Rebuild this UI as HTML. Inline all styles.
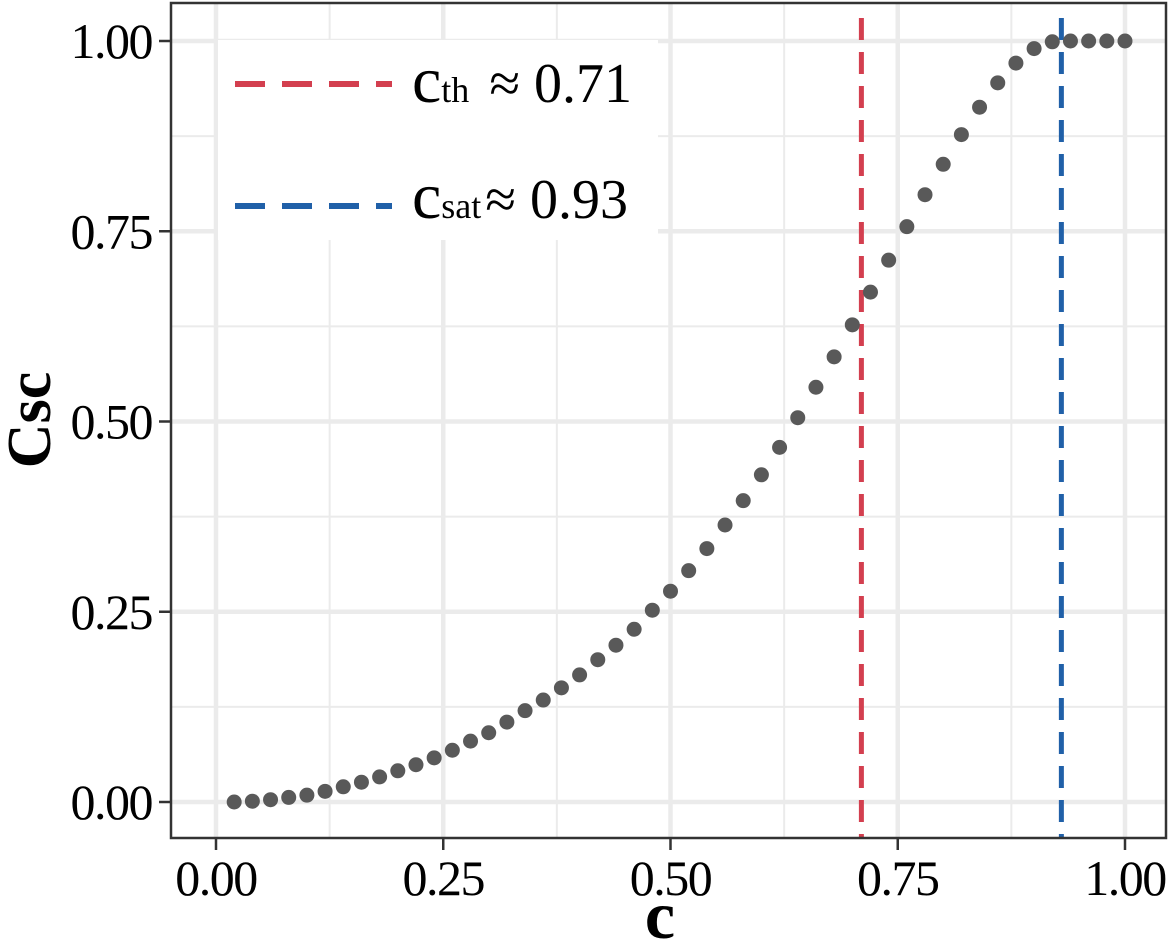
<!DOCTYPE html>
<html><head><meta charset="utf-8"><style>
html,body{margin:0;padding:0;background:#fff;}
svg{display:block;font-family:"Liberation Serif",serif;}
</style></head><body>
<svg id="chart" width="1173" height="945" viewBox="0 0 1173 945">
<g id="grid"></g>
<g id="vlines"></g>
<g id="points"></g>
<rect x="171" y="3" width="995" height="835" fill="none" stroke="#333" stroke-width="2.5"/>
<g id="xticks"></g>
<g id="yticks"></g>
<text x="660" y="938" text-anchor="middle" font-size="68" font-weight="bold">c</text>
<text transform="translate(50,420) rotate(-90)" text-anchor="middle" font-size="62" font-weight="bold">Csc</text>
<g>
 <rect x="218" y="40" width="440" height="200" fill="#fff"/>
 <g>
  <line x1="235" y1="84" x2="392" y2="84" stroke="#d33f4f" stroke-width="6" stroke-dasharray="30,17"/>
  <text x="412" y="102" font-size="66">c<tspan font-size="36">th</tspan><tspan dx="20" font-size="56">≈ 0.71</tspan></text>
 </g>
 <g>
  <line x1="235" y1="206" x2="392" y2="206" stroke="#2060a8" stroke-width="6" stroke-dasharray="30,17"/>
  <text x="412" y="218" font-size="66">c<tspan font-size="36">sat</tspan><tspan dx="4" font-size="56">≈ 0.93</tspan></text>
 </g>
</g>
</svg>
<script>
const cVals=[0.02,0.04,0.06,0.08,0.10,0.12,0.14,0.16,0.18,0.20,0.22,0.24,0.26,0.28,0.30,0.32,0.34,0.36,0.38,0.40,0.42,0.44,0.46,0.48,0.50,0.52,0.54,0.56,0.58,0.60,0.62,0.64,0.66,0.68,0.70,0.72,0.74,0.76,0.78,0.80,0.82,0.84,0.86,0.88,0.90,0.92,0.94,0.96,0.98,1.00];
const cscVals=[0,0.001,0.003,0.006,0.009,0.014,0.02,0.026,0.033,0.041,0.049,0.058,0.068,0.08,0.091,0.105,0.12,0.134,0.15,0.167,0.187,0.206,0.227,0.252,0.277,0.304,0.333,0.364,0.396,0.43,0.466,0.505,0.545,0.585,0.627,0.67,0.712,0.756,0.798,0.838,0.877,0.913,0.945,0.971,0.99,0.999,1,1,1,1];
const xTicks=[0,0.25,0.5,0.75,1];
const xTickLabels=["0.00","0.25","0.50","0.75","1.00"];
const yTicks=[0,0.25,0.5,0.75,1];
const yTickLabels=["0.00","0.25","0.50","0.75","1.00"];
const cTh=0.71, cSat=0.93;
const NS="http://www.w3.org/2000/svg";
const sx=v=>216+v*909, sy=v=>802-v*761;
function mk(tag,attrs,parent){const e=document.createElementNS(NS,tag);for(const k in attrs)e.setAttribute(k,attrs[k]);parent.appendChild(e);return e;}
const grid=document.getElementById('grid');
[0.125,0.375,0.625,0.875].forEach(v=>{
 let l=mk('line',{x1:sx(v),x2:sx(v),y1:3,y2:838,stroke:'#ebebeb','stroke-width':2},grid);
 
 l=mk('line',{x1:171,x2:1166,y1:sy(v),y2:sy(v),stroke:'#ebebeb','stroke-width':2},grid);
 
});
xTicks.forEach((v,i)=>{
 let l=mk('line',{x1:sx(v),x2:sx(v),y1:3,y2:838,stroke:'#ebebeb','stroke-width':4.5},grid);
 
 const g=document.getElementById('xticks');
 let t=mk('line',{x1:sx(v),x2:sx(v),y1:838,y2:850,stroke:'#333','stroke-width':2.5},g);
 
 let tx=mk('text',{x:sx(v),y:895,'text-anchor':'middle','font-size':50,'letter-spacing':-1.5},g);tx.textContent=xTickLabels[i];
 
});
yTicks.forEach((v,i)=>{
 let l=mk('line',{x1:171,x2:1166,y1:sy(v),y2:sy(v),stroke:'#ebebeb','stroke-width':4.5},grid);
 
 const g=document.getElementById('yticks');
 let t=mk('line',{x1:159,x2:171,y1:sy(v),y2:sy(v),stroke:'#333','stroke-width':2.5},g);
 
 let tx=mk('text',{x:152,y:sy(v)+17,'text-anchor':'end','font-size':50,'letter-spacing':-1.5},g);tx.textContent=yTickLabels[i];
 
});
const vl=document.getElementById('vlines');
let a=mk('line',{x1:sx(cTh),x2:sx(cTh),y1:18,y2:838,stroke:'#d33f4f','stroke-width':5,'stroke-dasharray':'22,12'},vl);

let b=mk('line',{x1:sx(cSat),x2:sx(cSat),y1:18,y2:838,stroke:'#2060a8','stroke-width':5,'stroke-dasharray':'22,12'},vl);

const pg=document.getElementById('points');
cVals.forEach((c,i)=>{
 const p=mk('circle',{cx:sx(c),cy:sy(cscVals[i]),r:7.5,fill:'#595959'},pg);
 
 
});
</script>
</body></html>
